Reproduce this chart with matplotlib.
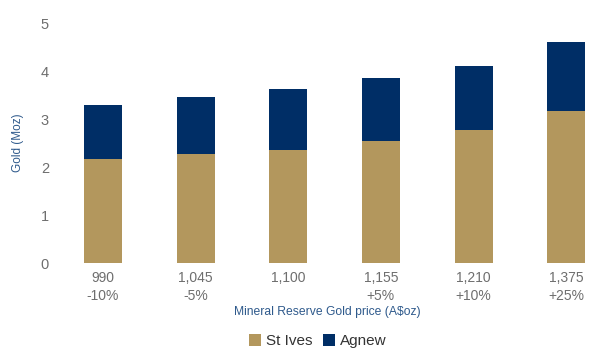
import matplotlib
matplotlib.use("Agg")
import matplotlib.pyplot as plt
import numpy as np

# Gold price scenarios (A$/oz) and sensitivity
prices = ["990", "1,045", "1,100", "1,155", "1,210", "1,375"]
changes = ["-10%", "-5%", "", "+5%", "+10%", "+25%"]
st_ives = [2.17, 2.27, 2.35, 2.54, 2.77, 3.17]
agnew = [1.12, 1.19, 1.275, 1.31, 1.33, 1.43]

GOLD = "#B3975D"
NAVY = "#002E66"
GREY = "#6E6E6E"
BLUE = "#2F5A8C"

plt.rcParams["font.family"] = ["Liberation Sans", "DejaVu Sans"]

fig = plt.figure(figsize=(5.94, 3.49), dpi=100)
ax = fig.add_axes([0.101, 0.246, 0.899, 0.688])

x = np.arange(len(prices))
ax.bar(x, st_ives, width=0.41, color=GOLD, label="St Ives")
ax.bar(x, agnew, width=0.41, bottom=st_ives, color=NAVY, label="Agnew")

ax.set_ylim(0, 5)
ax.set_xlim(-0.464, 5.3)
ax.set_yticks(range(6))
labels = [p + "\n" + c for p, c in zip(prices, changes)]
ax.set_xticks(x)
ax.set_xticklabels(labels, color=GREY, fontsize=10, linespacing=1.3)
ax.tick_params(axis="y", colors=GREY, labelsize=10.5, length=0, pad=8)
ax.tick_params(axis="x", length=0, pad=6)
for s in ax.spines.values():
    s.set_visible(False)

ax.set_ylabel("Gold (Moz)", color=BLUE, fontsize=8.5, labelpad=12)
ax.text(0.5, -0.205, "Mineral Reserve Gold price (A$oz)", color=BLUE,
        fontsize=8.7, ha="center", va="center", transform=ax.transAxes)

leg = fig.legend(loc="center", bbox_to_anchor=(0.535, 0.022), ncol=2,
                 frameon=False, fontsize=11, handlelength=0.75,
                 handleheight=0.75, handletextpad=0.35, columnspacing=0.7)
for t in leg.get_texts():
    t.set_color("#333333")

fig.savefig("out.png", dpi=100)
